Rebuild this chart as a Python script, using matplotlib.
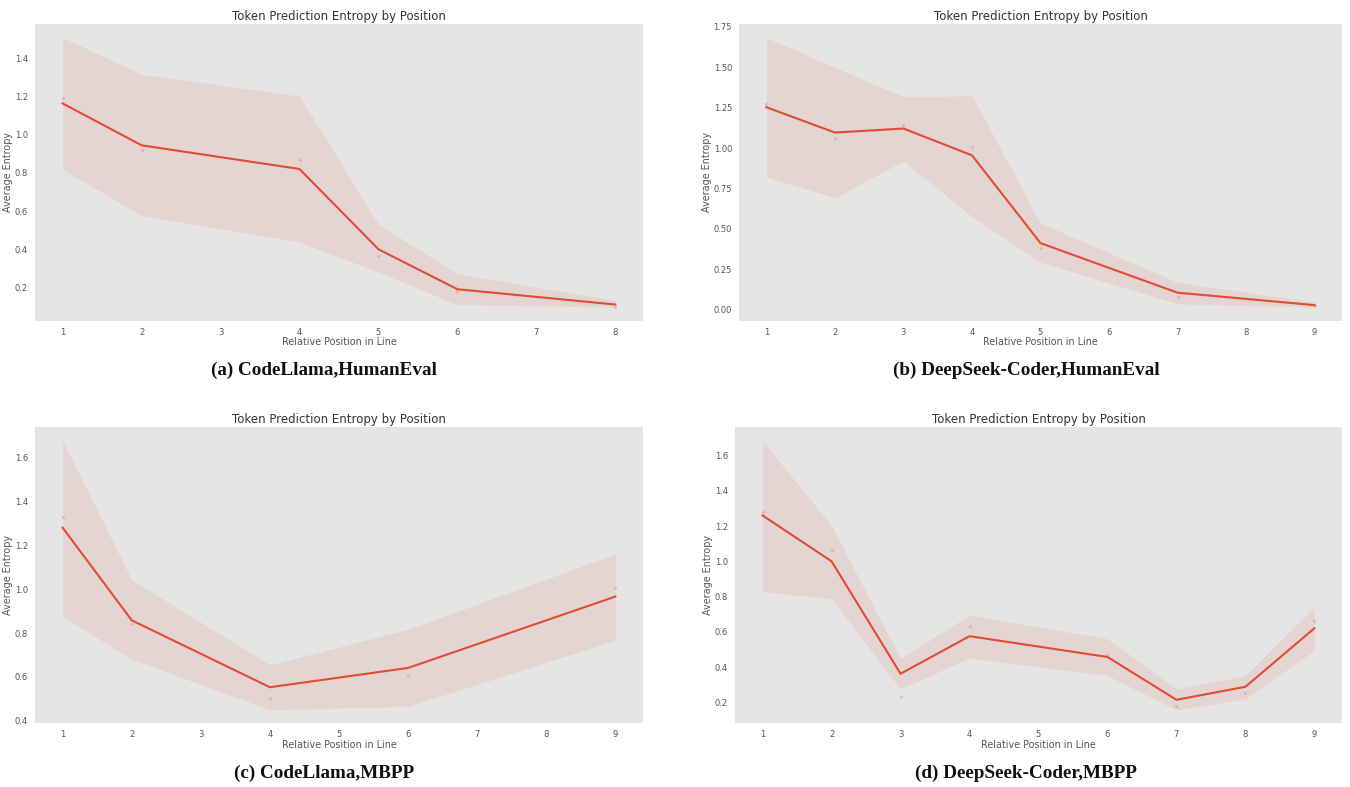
import matplotlib
matplotlib.use("Agg")
import matplotlib.pyplot as plt
import numpy as np

# ---- data ----
a_x = [1, 2, 4, 5, 6, 8]
a_line = [1.163, 0.944, 0.820, 0.400, 0.191, 0.111]
a_pts = [1.192, 0.922, 0.865, 0.367, 0.181, 0.100]
a_hi = [1.508, 1.316, 1.201, 0.530, 0.272, 0.132]
a_lo = [0.817, 0.577, 0.439, 0.280, 0.111, 0.097]
a_ticks = [1, 2, 3, 4, 5, 6, 7, 8]
a_yticks = [0.2, 0.4, 0.6, 0.8, 1.0, 1.2, 1.4]

b_x = [1, 2, 3, 4, 5, 7, 9]
b_line = [1.253, 1.096, 1.121, 0.955, 0.411, 0.104, 0.027]
b_pts = [1.276, 1.065, 1.144, 1.004, 0.378, 0.079, 0.020]
b_hi = [1.685, 1.499, 1.318, 1.324, 0.534, 0.168, 0.045]
b_lo = [0.820, 0.693, 0.920, 0.575, 0.293, 0.035, 0.014]
b_ticks = [1, 2, 3, 4, 5, 6, 7, 8, 9]
b_yticks = [0.0, 0.25, 0.5, 0.75, 1.0, 1.25, 1.5, 1.75]

c_x = [1, 2, 4, 6, 9]
c_line = [1.280, 0.858, 0.553, 0.641, 0.966]
c_pts = [1.330, 0.843, 0.505, 0.608, 1.007]
c_hi = [1.676, 1.042, 0.655, 0.817, 1.160]
c_lo = [0.875, 0.681, 0.450, 0.466, 0.767]
c_ticks = [1, 2, 3, 4, 5, 6, 7, 8, 9]
c_yticks = [0.4, 0.6, 0.8, 1.0, 1.2, 1.4, 1.6]

d_x = [1, 2, 3, 4, 6, 7, 8, 9]
d_line = [1.261, 1.001, 0.363, 0.576, 0.458, 0.215, 0.289, 0.621]
d_pts = [1.281, 1.065, 0.231, 0.635, 0.470, 0.177, 0.251, 0.665]
d_hi = [1.685, 1.202, 0.450, 0.695, 0.561, 0.276, 0.352, 0.741]
d_lo = [0.828, 0.790, 0.276, 0.453, 0.352, 0.158, 0.221, 0.496]
d_ticks = [1, 2, 3, 4, 5, 6, 7, 8, 9]
d_yticks = [0.2, 0.4, 0.6, 0.8, 1.0, 1.2, 1.4, 1.6]

captions = ["(a) CodeLlama,HumanEval", "(b) DeepSeek-Coder,HumanEval",
            "(c) CodeLlama,MBPP", "(d) DeepSeek-Coder,MBPP"]
title = "Token Prediction Entropy by Position"
xlabel = "Relative Position in Line"
ylabel = "Average Entropy"

RED = "#E24A33"
BG = "#E5E5E5"

fig = plt.figure(figsize=(13.5, 7.87), dpi=100)

W, H = 1350, 787
def rect(l, r, t, b):
    return [l / W, 1 - b / H, (r - l) / W, (b - t) / H]

panels = [
    (rect(35, 643, 24, 320.7), a_x, a_line, a_pts, a_hi, a_lo, a_ticks, a_yticks, "%.1f", 324, 370),
    (rect(739, 1342, 24, 320.7), b_x, b_line, b_pts, b_hi, b_lo, b_ticks, b_yticks, "%.2f", 1026, 370),
    (rect(35, 643, 427.3, 723.3), c_x, c_line, c_pts, c_hi, c_lo, c_ticks, c_yticks, "%.1f", 324, 773),
    (rect(735, 1342, 427.3, 723.3), d_x, d_line, d_pts, d_hi, d_lo, d_ticks, d_yticks, "%.1f", 1026, 773),
]

for i, (r, xs, ln, pts, hi, lo, xt, yt, fmt, capx, capy) in enumerate(panels):
    ax = fig.add_axes(r)
    ax.set_facecolor(BG)
    for s in ax.spines.values():
        s.set_visible(False)
    ax.fill_between(xs, lo, hi, color=RED, alpha=0.1, linewidth=0)
    ax.plot(xs, ln, color=RED, linewidth=1.5)
    ax.scatter(xs, pts, color=RED, alpha=0.25, s=5, linewidths=0)
    ax.set_xticks(xt)
    ax.set_yticks(yt)
    ax.set_yticklabels([fmt % v for v in yt])
    ax.tick_params(axis="both", length=0, labelsize=6, colors="#555555", pad=5)
    ax.set_title(title, fontsize=8.5, color="#333333", pad=3)
    ax.set_xlabel(xlabel, fontsize=6.9, color="#555555", labelpad=0.5)
    ax.set_ylabel(ylabel, fontsize=6.9, color="#555555", labelpad=1)
    ax.margins(x=0.05, y=0.05)
    fig.text(capx / W, 1 - capy / H, captions[i], ha="center", va="center",
             fontsize=13.8, fontweight="bold", family="Liberation Serif", color="#111111")

fig.savefig("out.png", dpi=100, facecolor="white")
